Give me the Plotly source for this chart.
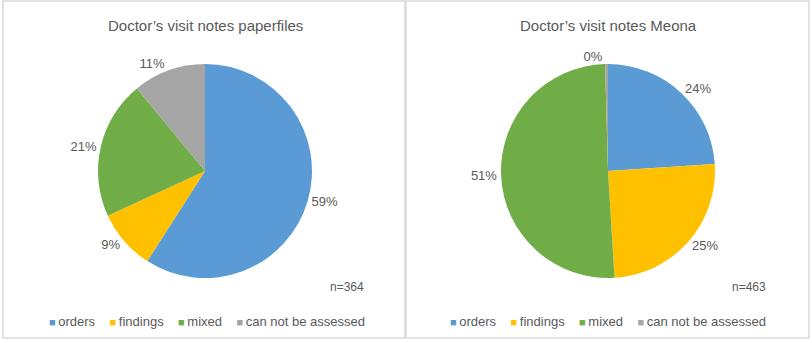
import plotly.graph_objects as go

categories = ["orders", "findings", "mixed", "can not be assessed"]
paper_counts = [215, 33, 76, 40]      # n=364
meona_counts = [111, 116, 234, 2]     # n=463
titles = ["Doctor’s visit notes paperfiles", "Doctor’s visit notes Meona"]
n_labels = ["n=364", "n=463"]
colors = ["#5B9BD5", "#FFC000", "#70AD47", "#A5A5A5"]

W, H = 812, 343
txt = "#595959"
font_family = "Liberation Sans, Arial, sans-serif"

fig = go.Figure()

pies = [
    dict(values=paper_counts, cx=205),
    dict(values=meona_counts, cx=608),
]
R = 107
CY = 171
for p in pies:
    fig.add_trace(go.Pie(
        labels=categories,
        values=p["values"],
        marker=dict(colors=colors, line=dict(width=0)),
        sort=False,
        direction="clockwise",
        rotation=0,
        textposition="outside",
        texttemplate="%{percent:.0%}",
        textfont=dict(size=13, color=txt, family=font_family),
        domain=dict(x=[(p["cx"] - R) / W, (p["cx"] + R) / W],
                    y=[(H - CY - R) / H, (H - CY + R) / H]),
        showlegend=False,
        hoverinfo="label+percent+value",
    ))

annotations = []
for cx, t in zip([205, 608], titles):
    annotations.append(dict(text=t, x=cx / W, y=(H - 25) / H, xref="paper", yref="paper",
                            showarrow=False, xanchor="center", yanchor="middle",
                            font=dict(size=15, color=txt, family=font_family)))
for nx, t in zip([347, 749], n_labels):
    annotations.append(dict(text=t, x=nx / W, y=(H - 287) / H, xref="paper", yref="paper",
                            showarrow=False, xanchor="center", yanchor="middle",
                            font=dict(size=12, color=txt, family=font_family)))

# legend rows (one per panel), built as text
gap = "\u00a0" * 4
legend_text = gap.join(
    f"<span style='color:{c};font-size:11px'>■</span>\u2009{cat}"
    for c, cat in zip(colors, categories)
)
for cx in [207, 608]:
    annotations.append(dict(text=legend_text, x=cx / W, y=(H - 321) / H, xref="paper", yref="paper",
                            showarrow=False, xanchor="center", yanchor="middle",
                            font=dict(size=13, color=txt, family=font_family)))

shapes = []
for x0, x1 in [(3, 405), (406, 809)]:
    shapes.append(dict(type="rect", xref="paper", yref="paper",
                       x0=x0 / W, x1=x1 / W, y0=(H - 338) / H, y1=(H - 1) / H,
                       line=dict(color="#D9D9D9", width=1.5), fillcolor="rgba(0,0,0,0)"))

fig.update_layout(
    width=W, height=H,
    margin=dict(l=0, r=0, t=0, b=0),
    paper_bgcolor="white", plot_bgcolor="white",
    font=dict(family=font_family, color=txt),
    annotations=annotations,
    shapes=shapes,
    showlegend=False,
)

fig.write_html("out.html")
